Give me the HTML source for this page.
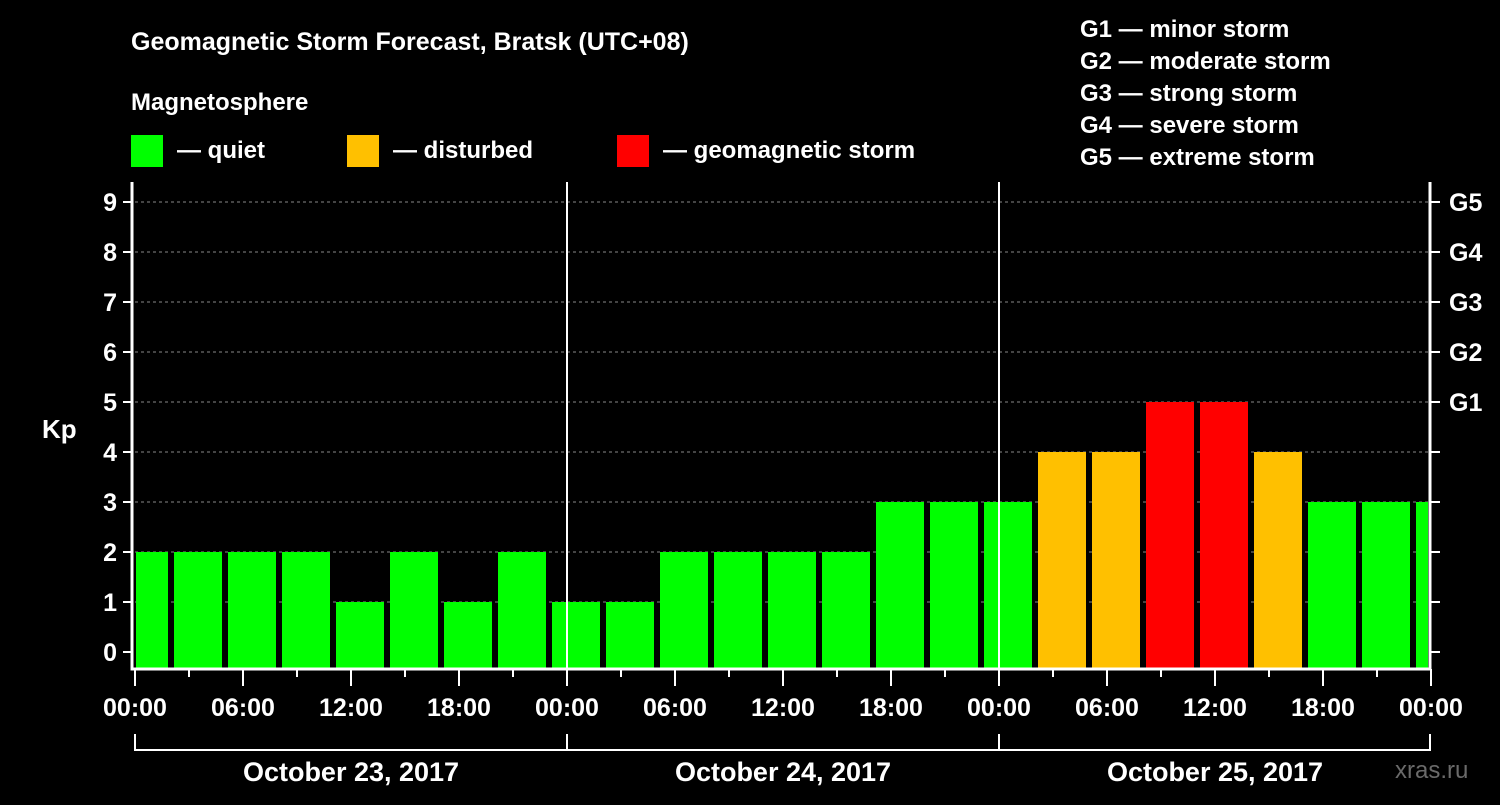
<!DOCTYPE html>
<html><head><meta charset="utf-8"><style>
body{margin:0;background:#000;width:1500px;height:800px;overflow:hidden}
svg text{font-family:"Liberation Sans",Arial,sans-serif;font-weight:bold;fill:#fff}
</style></head><body>
<svg id="c" width="1500" height="800" xmlns="http://www.w3.org/2000/svg">
<text x="131" y="50" font-size="25">Geomagnetic Storm Forecast, Bratsk (UTC+08)</text>
<text x="131" y="110" font-size="24">Magnetosphere</text>
<g><rect x="131" y="135" width="32" height="32" fill="#00ff00"/><text x="177" y="158" font-size="24">— quiet</text></g>
<g><rect x="347" y="135" width="32" height="32" fill="#ffc000"/><text x="393" y="158" font-size="24">— disturbed</text></g>
<g><rect x="617" y="135" width="32" height="32" fill="#ff0000"/><text x="663" y="158" font-size="24">— geomagnetic storm</text></g>
<g font-size="24">
<text x="1080" y="37">G1 — minor storm</text><text x="1080" y="69">G2 — moderate storm</text><text x="1080" y="101">G3 — strong storm</text><text x="1080" y="133">G4 — severe storm</text><text x="1080" y="165">G5 — extreme storm</text></g>
<text x="42" y="438" font-size="26">Kp</text>
<text x="1395" y="778" font-size="24" fill="#666" style="fill:#6a6a6a;font-weight:normal">xras.ru</text>
<g id="grid"></g><g id="bars"></g><g id="axes"></g>
</svg>
<script>
const kpValues=[2,2,2,2,1,2,1,2,1,1,2,2,2,2,3,3,3,4,4,5,5,4,3,3,3];
const yTicks=[0,1,2,3,4,5,6,7,8,9];
const gLabels=["G1","G2","G3","G4","G5"];
const timeLabels=["00:00","06:00","12:00","18:00","00:00","06:00","12:00","18:00","00:00","06:00","12:00","18:00","00:00"];
const dayLabels=["October 23, 2017","October 24, 2017","October 25, 2017"];
const NS="http://www.w3.org/2000/svg";
const L=135,R=1430,T=182,B=669;
const x=h=>L+h*18; const y=v=>652-v*50;
function mk(p,tag,a){const e=document.createElementNS(NS,tag);for(const k in a)e.setAttribute(k,a[k]);document.getElementById(p).appendChild(e);return e;}
yTicks.forEach(v=>{if(v>=1){const l=mk('grid','line',{x1:L,x2:R,y1:y(v),y2:y(v),stroke:'#888','stroke-dasharray':'3,3','stroke-width':1});

}});
kpValues.forEach((v,i)=>{let x0=x(i*3)-15,x1=x0+48;x0=Math.max(x0,L+1);x1=Math.min(x1,R-2);
const c=v>=5?'#ff0000':v>=4?'#ffc000':'#00ff00';
const r=mk('bars','rect',{x:x0,y:y(v),width:x1-x0,height:B-1-y(v),fill:c});

});
[1,2].forEach(d=>{const l=mk('axes','line',{x1:x(d*24),x2:x(d*24),y1:T,y2:B,stroke:'#fff','stroke-width':2});

});
mk('axes','path',{d:`M${L-3},${T} V${B} H${R} V${T}`,stroke:'#fff','stroke-width':3,fill:'none'});
yTicks.forEach(v=>{mk('axes','line',{x1:L-12,x2:L-3,y1:y(v),y2:y(v),stroke:'#fff','stroke-width':2});
mk('axes','line',{x1:R,x2:R+10,y1:y(v),y2:y(v),stroke:'#fff','stroke-width':2});
const t=mk('axes','text',{x:L-18,y:y(v)+9,'font-size':25,'text-anchor':'end'});t.textContent=v;

});
gLabels.forEach((g,i)=>{const t=mk('axes','text',{x:R+19,y:y(5+i)+9,'font-size':25});t.textContent=g;

});
for(let h=0;h<=72;h+=3){const maj=h%6===0;mk('axes','line',{x1:x(h),x2:x(h),y1:B,y2:B+(maj?17:8),stroke:'#fff','stroke-width':2});}
timeLabels.forEach((s,i)=>{const t=mk('axes','text',{x:x(i*6),y:716,'font-size':25,'text-anchor':'middle'});t.textContent=s;

});
mk('axes','path',{d:`M${L},734 V750 H${R} V734 M${x(24)},734 V750 M${x(48)},734 V750`,stroke:'#fff','stroke-width':2,fill:'none'});
dayLabels.forEach((s,i)=>{const t=mk('axes','text',{x:x(i*24+12),y:781,'font-size':27,'text-anchor':'middle'});t.textContent=s;

});
</script>
</body></html>
